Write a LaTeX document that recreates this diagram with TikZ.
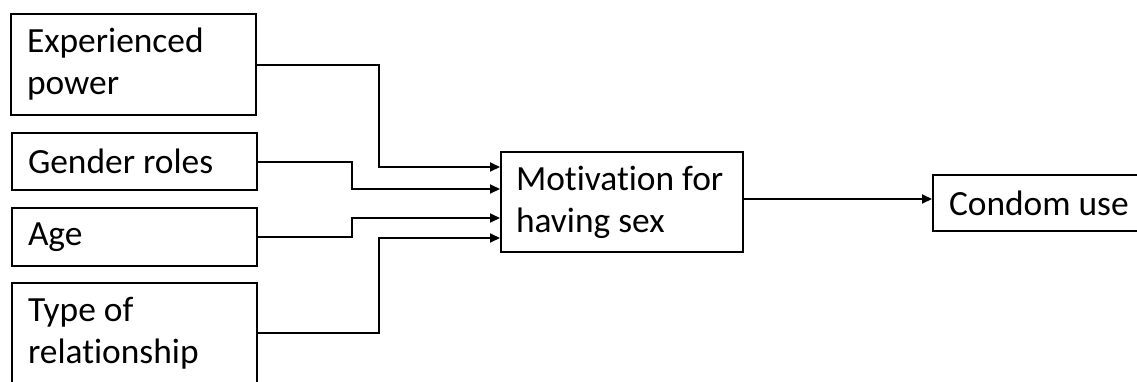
\documentclass[tikz,border=0pt]{standalone}
\usepackage{fontspec}
\setmainfont{Carlito}[Ligatures=NoCommon]
\usetikzlibrary{arrows.meta,calc}

\tikzset{
  factor/.style={draw, line width=1pt, inner xsep=8pt, inner ysep=0pt, align=flush left,
    font=\fontsize{17.7}{21}\selectfont},
  link/.style={line width=1pt, -{Triangle[length=5pt,width=4.5pt]}}
}

\begin{document}
\begin{tikzpicture}[x=0.5pt,y=0.5pt,yscale=-1]
\useasboundingbox (0,0) rectangle (1137,381);
\clip (0,0) rectangle (1137,381);

% Factor boxes
\node[factor, minimum width=122.5pt, minimum height=50.5pt, text width=106.5pt] (exp) at (133.5,64.5) {Experienced\\power};
\node[factor, minimum width=122.5pt, minimum height=28.5pt, text width=106.5pt] (gen) at (134.5,161.5) {Gender roles};
\node[factor, minimum width=122.5pt, minimum height=29pt, text width=106.5pt] (age) at (134.5,237) {Age};
\node[factor, minimum width=122.5pt, minimum height=50pt, text width=106.5pt] (rel) at (134.5,333) {Type of\\relationship};

% Mediator and outcome
\node[factor, inner xsep=7.5pt, minimum width=121pt, minimum height=50pt, text width=106pt] (motiv) at (622,202) {\mbox{Motivation for}\\having sex};
\node[factor, anchor=west, minimum width=140pt, minimum height=28pt, text width=124pt] (condom) at (932,203) {Condom use};

% Connectors
\draw[link] (exp.east) -- ++(122,0) |- ($(motiv.west)+(0,-35)$);
\draw[link] (gen.east) -- ++(94,0) |- ($(motiv.west)+(0,-13)$);
\draw[link] (age.east) -- ++(94,0) |- ($(motiv.west)+(0,16)$);
\draw[link] (rel.east) -- ++(121,0) |- ($(motiv.west)+(0,36)$);
\coordinate (out) at ($(motiv.east)+(0,-3)$);
\draw[link] (out) -- (out -| condom.west);

\end{tikzpicture}
\end{document}
